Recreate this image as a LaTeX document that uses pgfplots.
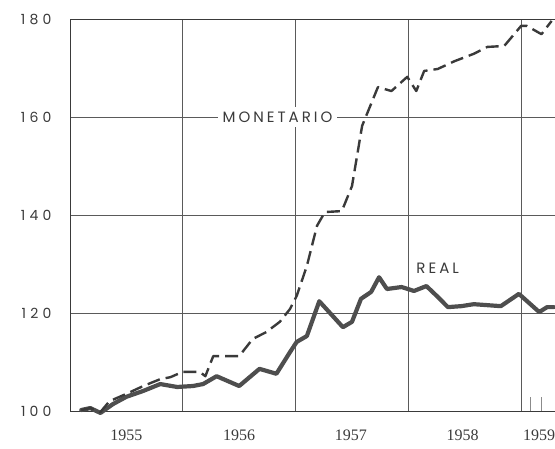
\documentclass[border=0pt]{standalone}
\usepackage{fontspec}
\setmainfont{Liberation Sans}
\newfontfamily\pop[LetterSpace=30]{Poppins}
\newfontfamily\lab[LetterSpace=20]{Poppins}
\newfontfamily\yr{Liberation Serif}
\usepackage{pgfplots}
\pgfplotsset{compat=1.18}
\definecolor{ink}{HTML}{3A3A3A}
\definecolor{gridc}{HTML}{5A5A5A}
\begin{document}
\begin{tikzpicture}[x=1pt,y=1pt]
\useasboundingbox (0,0) rectangle (555,448);
\begin{axis}[at={(70pt,37pt)}, anchor=south west,
  width=485pt, height=392pt, scale only axis,
  xmin=1955, xmax=1959.3, ymin=100, ymax=180,
  axis x line=box, axis y line=left,
  axis line style={-, draw=ink, line width=1pt},
  xtick={1956,1957,1958,1959}, xticklabels={},
  ytick={100,120,140,160,180}, yticklabels={100,120,140,160,180},
  yticklabel style={font=\pop\fontsize{14}{14}\selectfont, color=ink, xshift=-15pt},
  grid=major, major grid style={draw=gridc, line width=0.8pt},
  major tick length=0pt,
  xtick pos=bottom, ytick pos=left,
  minor xtick={1959.08,1959.18}, minor tick length=14pt,
  minor tick style={draw=gridc!70, line width=0.8pt},
  extra x ticks={1955.5,1956.5,1957.49,1958.48,1959.16},
  extra x tick labels={1955,1956,1957,1958,1959},
  extra x tick style={grid=none, major tick length=0pt,
    xticklabel style={font=\yr\fontsize{16}{16}\selectfont, color=ink, yshift=-15pt}},
  clip=false,
]
\addplot[draw=ink!90, line width=4.2pt, line join=round, line cap=round] coordinates {
(1955.10,100.2) (1955.18,100.6) (1955.27,99.6) (1955.38,101.4) (1955.50,102.9)
(1955.65,104.1) (1955.80,105.5) (1955.95,104.9) (1956.09,105.1) (1956.18,105.5)
(1956.30,107.1) (1956.50,105.1) (1956.68,108.6) (1956.83,107.6) (1956.95,112.0)
(1957.01,114.1) (1957.10,115.3) (1957.21,122.4) (1957.42,117.1) (1957.50,118.2)
(1957.58,122.9) (1957.67,124.3) (1957.74,127.3) (1957.81,124.9) (1957.94,125.3)
(1958.05,124.5) (1958.16,125.5) (1958.26,123.3) (1958.35,121.2) (1958.47,121.4)
(1958.58,121.8) (1958.82,121.4) (1958.98,123.9) (1959.16,120.2) (1959.23,121.2)
(1959.29,121.2)
};
\addplot[draw=ink, line width=2.4pt, dash pattern=on 13pt off 6pt, line join=round] coordinates {
(1955.10,100.2) (1955.18,100.6) (1955.27,99.8) (1955.35,102.0) (1955.50,103.5)
(1955.65,105.1) (1955.80,106.5) (1955.89,106.9) (1956.00,108.0) (1956.15,108.0)
(1956.20,107.1) (1956.27,111.2) (1956.50,111.2) (1956.62,114.7) (1956.74,116.1)
(1956.86,118.2) (1956.95,120.8) (1957.01,123.5) (1957.10,129.6) (1957.19,137.8)
(1957.26,140.6) (1957.41,140.8) (1957.50,145.9) (1957.59,158.2) (1957.73,166.1)
(1957.85,165.3) (1957.99,168.2) (1958.07,165.3) (1958.14,169.4) (1958.26,169.8)
(1958.41,171.4) (1958.58,172.9) (1958.70,174.3) (1958.85,174.5) (1959.00,178.6)
(1959.05,178.6) (1959.18,176.9) (1959.27,179.6)
};
\node[fill=white, inner sep=5pt, font=\lab\fontsize{15}{15}\selectfont, text=ink] at (axis cs:1956.84,160) {MONETARIO};
\node[fill=white, inner sep=3pt, font=\lab\fontsize{15}{15}\selectfont, text=ink] at (axis cs:1958.26,129.2) {REAL};
\end{axis}
\end{tikzpicture}
\end{document}
